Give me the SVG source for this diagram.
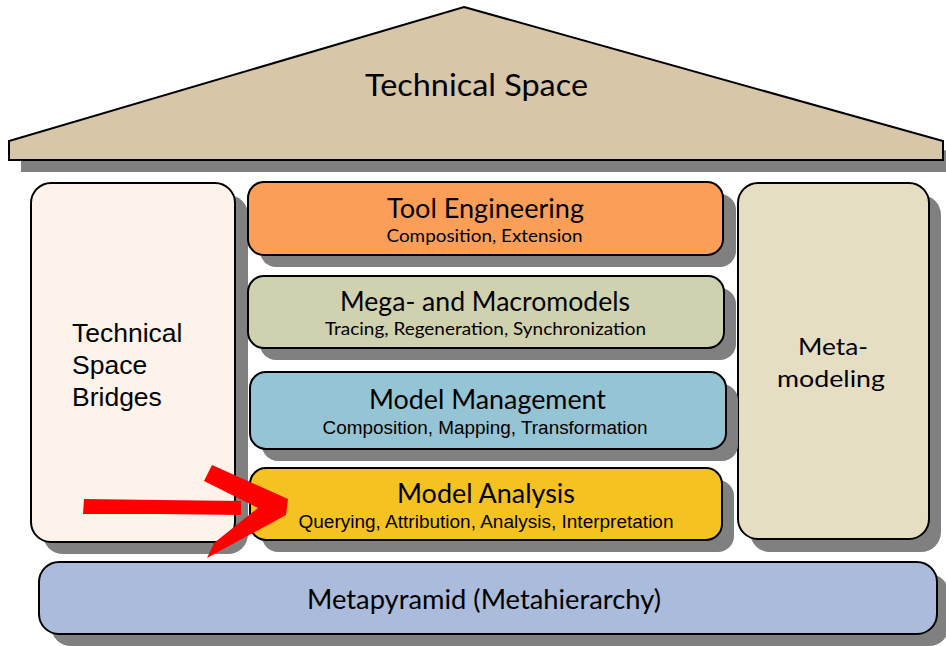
<svg xmlns="http://www.w3.org/2000/svg" width="946" height="646" viewBox="0 0 946 646">
<style>
.shadow{fill:#808080;stroke:none}
.box{stroke:#000;stroke-width:2}
.lato{font-family:Lato,"Liberation Sans",sans-serif;fill:#000}
.arial{font-family:"Liberation Sans",Arial,sans-serif;fill:#000}
.title{font-size:26px;text-anchor:middle}
.sub{font-size:18px;text-anchor:middle}
.red{fill:#ff0000;stroke:none}
</style>
<rect width="946" height="646" fill="#ffffff"/>
<g id="roof">
<polygon class="shadow" points="476,19 955,153 955,172 21,172 21,153"/>
<polygon class="box" fill="#d8c6a9" points="464,7 943,141 943,160 9,160 9,141"/>
<text class="lato" x="476.5" y="96" font-size="30" text-anchor="middle" textLength="223" lengthAdjust="spacingAndGlyphs">Technical Space</text>
</g>
<g id="bridges">
<rect class="shadow" x="43" y="195" width="205" height="359" rx="20"/>
<rect class="box" fill="#fdf3ea" x="31" y="183" width="204" height="359" rx="20"/>
<text class="arial" x="72" y="342" font-size="26.5">Technical</text>
<text class="arial" x="72" y="374" font-size="26.5">Space</text>
<text class="arial" x="72" y="406" font-size="26.5">Bridges</text>
</g>
<g id="metamodeling">
<rect class="shadow" x="750" y="195" width="191" height="357" rx="20"/>
<rect class="box" fill="#e6dec3" x="738" y="183" width="191" height="356" rx="20"/>
<text class="lato" x="833" y="355" font-size="24" text-anchor="middle" textLength="70" lengthAdjust="spacingAndGlyphs">Meta-</text>
<text class="lato" x="831" y="387" font-size="24" text-anchor="middle" textLength="108" lengthAdjust="spacingAndGlyphs">modeling</text>
</g>
<g id="tool-engineering">
<rect class="shadow" x="260" y="194" width="476" height="73" rx="16"/>
<rect class="box" fill="#fb9f58" x="248" y="182" width="475" height="73" rx="16"/>
<text class="lato title" x="485.5" y="218" textLength="197" lengthAdjust="spacingAndGlyphs">Tool Engineering</text>
<text class="lato sub" x="484.5" y="242" textLength="196" lengthAdjust="spacingAndGlyphs">Composition, Extension</text>
</g>
<g id="mega-macromodels">
<rect class="shadow" x="260" y="288" width="476" height="72" rx="16"/>
<rect class="box" fill="#d0d1ae" x="248" y="276" width="476" height="72" rx="16"/>
<text class="lato title" x="485" y="311" textLength="290" lengthAdjust="spacingAndGlyphs">Mega- and Macromodels</text>
<text class="lato sub" x="485.5" y="335" textLength="321" lengthAdjust="spacingAndGlyphs">Tracing, Regeneration, Synchronization</text>
</g>
<g id="model-management">
<rect class="shadow" x="262" y="384" width="476" height="77" rx="16"/>
<rect class="box" fill="#95c4d5" x="250" y="372" width="476" height="77" rx="16"/>
<text class="lato title" x="487.5" y="409" textLength="237" lengthAdjust="spacingAndGlyphs">Model Management</text>
<text class="arial sub" x="485" y="434" textLength="325" lengthAdjust="spacingAndGlyphs">Composition, Mapping, Transformation</text>
</g>
<g id="model-analysis">
<rect class="shadow" x="262" y="480" width="472" height="72" rx="16"/>
<rect class="box" fill="#f5c321" x="250" y="468" width="472" height="72" rx="16"/>
<text class="lato title" x="486" y="503" textLength="178" lengthAdjust="spacingAndGlyphs">Model Analysis</text>
<text class="arial sub" x="486" y="528" textLength="375" lengthAdjust="spacingAndGlyphs">Querying, Attribution, Analysis, Interpretation</text>
</g>
<g id="metapyramid">
<rect class="shadow" x="51" y="574" width="898" height="72" rx="20"/>
<rect class="box" fill="#abbbdb" x="39" y="562" width="898" height="72" rx="20"/>
<text class="lato" x="484" y="609" font-size="26" text-anchor="middle" textLength="354" lengthAdjust="spacingAndGlyphs">Metapyramid (Metahierarchy)</text>
</g>
<g id="connectors">
<polygon class="red" points="84,499 160,500 241,501 241,515 160,514 83,514"/>
<polygon class="red" points="212,465 288,499 286,515 207,558 214,543 258,508 204,481"/>
</g>
</svg>
